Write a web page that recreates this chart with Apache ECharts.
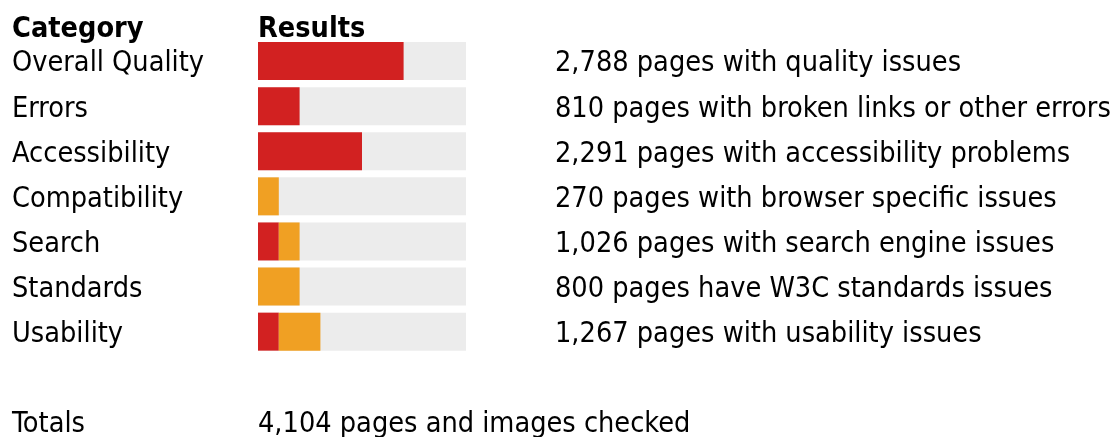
<!DOCTYPE html>
<html>
<head>
<meta charset="utf-8">
<script src="https://cdn.jsdelivr.net/npm/echarts@6/dist/echarts.min.js"></script>
<style>
  html, body { margin: 0; padding: 0; background: #ffffff; }
  #mychart { width: 1120px; height: 437px; }
</style>
</head>
<body>
<div id="mychart"></div>
<script>
// categories and what each bar says (bars are on a 0-10 scale)
var categories = ['Overall Quality', 'Errors', 'Accessibility', 'Compatibility', 'Search', 'Standards', 'Usability'];
var redValues = [7, 2, 5, 0, 1, 0, 1];
var orangeValues = [0, 0, 0, 1, 1, 2, 2];
var descriptions = [
    '2,788 pages with quality issues',
    '810 pages with broken links or other errors',
    '2,291 pages with accessibility problems',
    '270 pages with browser specific issues',
    '1,026 pages with search engine issues',
    '800 pages have W3C standards issues',
    '1,267 pages with usability issues'
];
var headers = ['Category', 'Results'];
var totalsLabel = 'Totals';
var totalsText = '4,104 pages and images checked';
var scaleMax = 10;

var FONT = '"DejaVu Sans Condensed", "DejaVu Sans", sans-serif';
var SIZE = 28.6;

function labelAxis(data, pos, margin) {
    return {
        gridIndex: 1,
        type: 'category',
        data: data,
        inverse: true,
        position: pos,
        axisLine: { show: false },
        axisTick: { show: false },
        splitLine: { show: false },
        axisLabel: {
            align: 'left',
            margin: margin,
            color: '#000000',
            fontFamily: FONT,
            fontSize: SIZE
        }
    };
}

var myChart = echarts.init(document.getElementById('mychart'));
var option = {
    backgroundColor: '#ffffff',
    animation: false,
    textStyle: { fontFamily: FONT },
    // grid 0 holds the bars, grid 1 only the row texts (a touch lower)
    grid: [{
        left: 258,
        top: 38.5,
        width: 208,
        height: 315.7
    }, {
        left: 258,
        top: 41.5,
        width: 208,
        height: 315.7
    }],
    xAxis: [{
        gridIndex: 0,
        type: 'value',
        min: 0,
        max: scaleMax,
        show: false
    }, {
        gridIndex: 1,
        type: 'value',
        min: 0,
        max: scaleMax,
        show: false
    }],
    yAxis: [{
        gridIndex: 0,
        type: 'category',
        data: categories,
        inverse: true,
        show: false
    },
        labelAxis(categories, 'left', 246),
        labelAxis(descriptions, 'right', 89)
    ],
    series: [{
        name: 'red',
        type: 'bar',
        stack: 'res',
        barWidth: 38,
        data: redValues,
        showBackground: true,
        backgroundStyle: { color: '#ececec' },
        itemStyle: { color: '#d22121' }
    }, {
        name: 'orange',
        type: 'bar',
        stack: 'res',
        barWidth: 38,
        data: orangeValues,
        itemStyle: { color: '#f0a023' }
    }],
    graphic: [{
        type: 'text', x: 12, y: 30,
        style: { text: headers[0], font: 'bold ' + SIZE + 'px ' + FONT, fill: '#000000', verticalAlign: 'middle' }
    }, {
        type: 'text', x: 258, y: 30,
        style: { text: headers[1], font: 'bold ' + SIZE + 'px ' + FONT, fill: '#000000', verticalAlign: 'middle' }
    }, {
        type: 'text', x: 12, y: 425,
        style: { text: totalsLabel, font: SIZE + 'px ' + FONT, fill: '#000000', verticalAlign: 'middle' }
    }, {
        type: 'text', x: 258, y: 425,
        style: { text: totalsText, font: SIZE + 'px ' + FONT, fill: '#000000', verticalAlign: 'middle' }
    }]
};
if (option && typeof option === "object") {
    myChart.setOption(option, true);
}
</script>
</body>
</html>
